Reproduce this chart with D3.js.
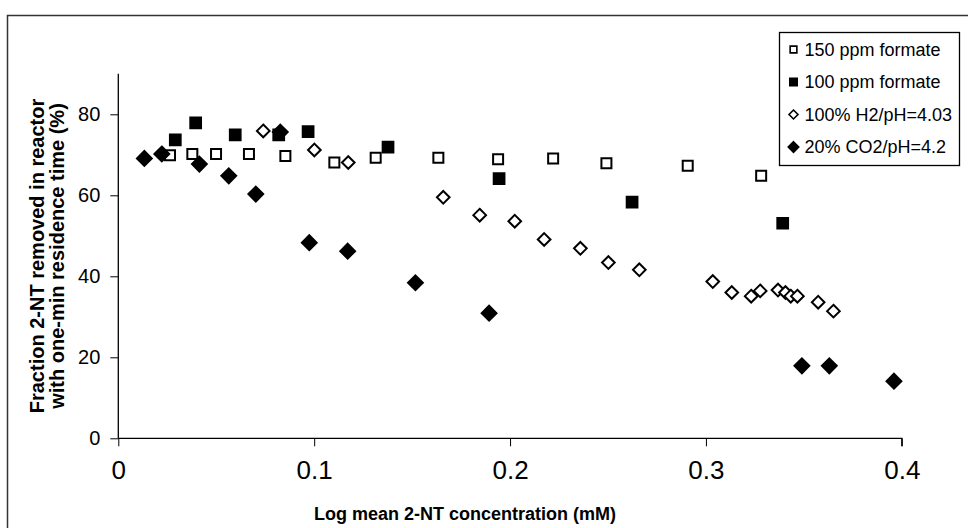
<!DOCTYPE html>
<html>
<head>
<meta charset="utf-8">
<script src="https://cdn.jsdelivr.net/npm/d3@7"></script>
<style>
  body { margin: 0; background: #fff; }
  svg text { font-family: "Liberation Sans", Arial, sans-serif; fill: #000; }
</style>
</head>
<body>
<div id="chart"></div>
<script>
// series: x = log mean 2-NT concentration (mM), y = fraction removed (%)
var formate150X = [0.0264, 0.0378, 0.0499, 0.0667, 0.0853, 0.1103, 0.1314, 0.1634, 0.1939, 0.2220, 0.2492, 0.2907, 0.3282];
var formate150Y = [69.9, 70.2, 70.2, 70.2, 69.7, 68.1, 69.3, 69.3, 68.9, 69.1, 67.9, 67.3, 64.8];

var formate100X = [0.0291, 0.0395, 0.0597, 0.0819, 0.0969, 0.1377, 0.1944, 0.2623, 0.3392];
var formate100Y = [73.7, 77.9, 74.9, 74.9, 75.7, 71.9, 64.1, 58.3, 53.1];

var h2X = [0.0740, 0.1001, 0.1174, 0.1659, 0.1845, 0.2024, 0.2174, 0.2359, 0.2502, 0.2660,
           0.3035, 0.3132, 0.3231, 0.3277, 0.3368, 0.3406, 0.3433, 0.3467, 0.3573, 0.3651];
var h2Y = [75.9, 71.2, 68.1, 59.5, 55.1, 53.6, 49.1, 46.9, 43.4, 41.6,
           38.7, 36.0, 35.1, 36.4, 36.6, 36.0, 35.1, 35.1, 33.6, 31.4];

var co2X = [0.0133, 0.0222, 0.0414, 0.0564, 0.0702, 0.0827, 0.0975, 0.1171, 0.1517, 0.1893, 0.3490, 0.3630, 0.3960];
var co2Y = [69.1, 70.2, 67.7, 64.8, 60.3, 75.6, 48.3, 46.2, 38.4, 30.9, 17.9, 17.9, 14.1];

var seriesNames = ["150 ppm formate", "100 ppm formate", "100% H2/pH=4.03", "20% CO2/pH=4.2"];
var xTicks = [0, 0.1, 0.2, 0.3, 0.4];
var yTicks = [0, 20, 40, 60, 80];

var W = 968, H = 528;
var origin = {x: 118.3, y: 438.3};
var plotW = 783.5, plotH = 364.5;

var x = d3.scaleLinear().domain([0, 0.4]).range([0, plotW]);
var y = d3.scaleLinear().domain([0, 90]).range([plotH, 0]);

// square diamond (rotated square) symbol
var squareDiamond = {
  draw: function(ctx, size) {
    var r = Math.sqrt(size) / Math.SQRT2;
    ctx.moveTo(0, -r); ctx.lineTo(r, 0); ctx.lineTo(0, r); ctx.lineTo(-r, 0); ctx.closePath();
  }
};

var styles = [
  {type: d3.symbolSquare, fill: "#fff", size: 100},
  {type: d3.symbolSquare, fill: "#000", size: 115},
  {type: squareDiamond, fill: "#fff", size: 80},
  {type: squareDiamond, fill: "#000", size: 110}
];

var series = [
  d3.zip(formate150X, formate150Y),
  d3.zip(formate100X, formate100Y),
  d3.zip(h2X, h2Y),
  d3.zip(co2X, co2Y)
];

var svg = d3.select("#chart").append("svg")
  .attr("width", W).attr("height", H);

// outer chart border (cropped at right/bottom)
svg.append("rect")
  .attr("x", 7.5).attr("y", 15.5)
  .attr("width", 1000).attr("height", 600)
  .attr("fill", "none").attr("stroke", "#333").attr("stroke-width", 1.5);

var g = svg.append("g")
  .attr("transform", "translate(" + origin.x + "," + (origin.y - plotH) + ")");

// y axis
var yAxis = g.append("g")
  .call(d3.axisLeft(y).tickValues(yTicks).tickSize(8).tickPadding(10).tickFormat(d3.format("d")));
yAxis.select(".domain").attr("d", "M0,0V" + y(0)).attr("stroke", "#000").attr("stroke-width", 1.3);
yAxis.selectAll("line").attr("stroke", "#000");
yAxis.selectAll("text").style("font-size", "20px");

// x axis
var xAxis = g.append("g")
  .attr("transform", "translate(0," + y(0) + ")")
  .call(d3.axisBottom(x).tickValues(xTicks).tickSize(8).tickPadding(14)
    .tickFormat(function(d) { return d === 0 ? "0" : d3.format(".1f")(d); }));
xAxis.select(".domain").attr("d", "M" + x(0) + ",0H" + x(0.4) + "V8").attr("stroke", "#000").attr("stroke-width", 1.3);
xAxis.selectAll("line").attr("stroke", "#000");
xAxis.selectAll("text").style("font-size", "26px");

// points
series.forEach(function(data, i) {
  var st = styles[i];
  g.selectAll(".s" + i)
    .data(data)
    .enter().append("path")
    .attr("class", "s" + i)
    .attr("transform", function(d) { return "translate(" + x(d[0]) + "," + y(d[1]) + ")"; })
    .attr("d", d3.symbol().type(st.type).size(st.size))
    .attr("fill", st.fill)
    .attr("stroke", "#000")
    .attr("stroke-width", 2);
});

// axis titles
svg.append("text")
  .attr("x", 465).attr("y", 520)
  .attr("text-anchor", "middle")
  .style("font-size", "18px").style("font-weight", "bold")
  .text("Log mean 2-NT concentration (mM)");

var yTitle = svg.append("text")
  .attr("transform", "translate(0,256) rotate(-90)")
  .attr("text-anchor", "middle")
  .style("font-size", "20px").style("font-weight", "bold");
yTitle.append("tspan").attr("x", 0).attr("y", 44).text("Fraction 2-NT removed in reactor");
yTitle.append("tspan").attr("x", 0).attr("y", 64).text("with one-min residence time (%)");

// legend
var legend = svg.append("g").attr("transform", "translate(779.5,32.5)");
legend.append("rect")
  .attr("width", 180).attr("height", 133)
  .attr("fill", "#fff").attr("stroke", "#000").attr("stroke-width", 1.3);

var legendSizes = [45, 55, 40, 55];
seriesNames.forEach(function(name, i) {
  var row = legend.append("g").attr("transform", "translate(0," + (17 + i * 32.5) + ")");
  row.append("path")
    .attr("transform", "translate(14,0)")
    .attr("d", d3.symbol().type(styles[i].type).size(legendSizes[i]))
    .attr("fill", styles[i].fill)
    .attr("stroke", "#000")
    .attr("stroke-width", 1.6);
  row.append("text")
    .attr("x", 25).attr("y", 6)
    .style("font-size", "18px")
    .text(name);
});
</script>
</body>
</html>
